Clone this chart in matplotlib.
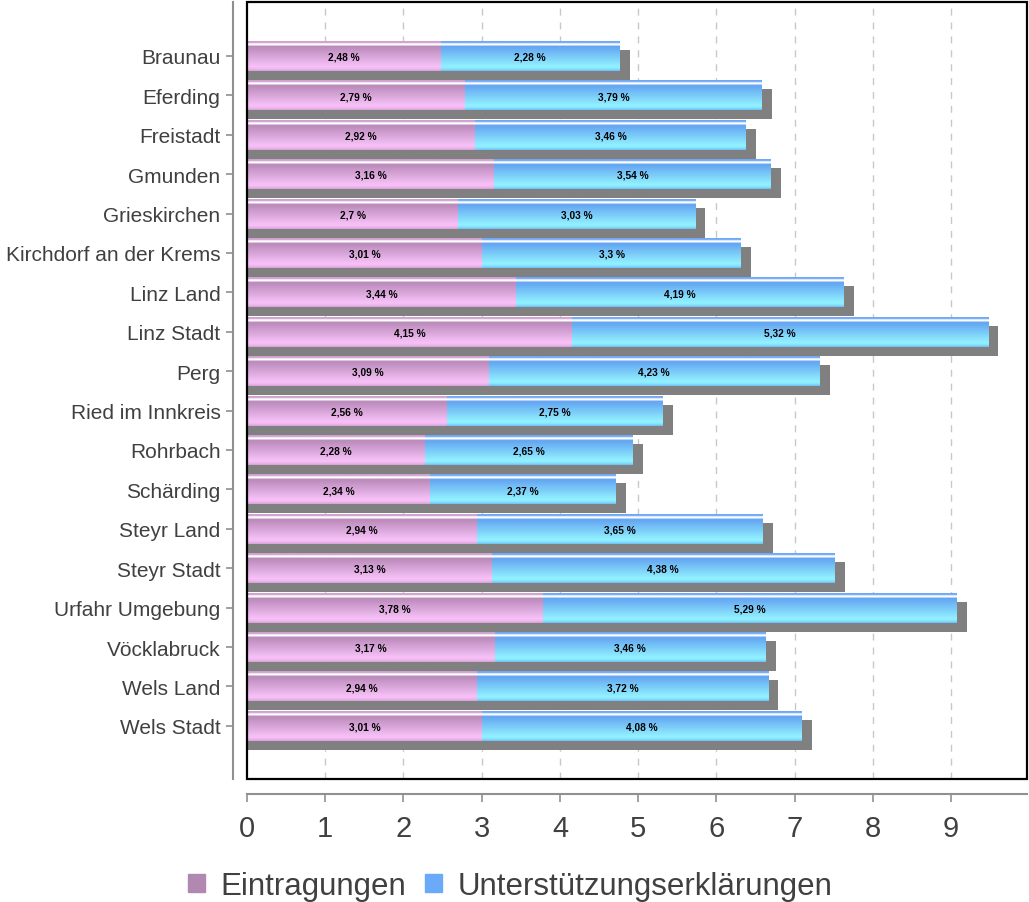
import numpy as np
import matplotlib
matplotlib.use("Agg")
import matplotlib.pyplot as plt
from matplotlib.colors import to_rgb
from matplotlib.patches import Rectangle, Patch

plt.rcParams['font.family'] = ['Liberation Sans', 'DejaVu Sans']

bezirke = ["Braunau", "Eferding", "Freistadt", "Gmunden", "Grieskirchen",
           "Kirchdorf an der Krems", "Linz Land", "Linz Stadt", "Perg",
           "Ried im Innkreis", "Rohrbach", "Schärding", "Steyr Land",
           "Steyr Stadt", "Urfahr Umgebung", "Vöcklabruck", "Wels Land",
           "Wels Stadt"]
eintragungen = [2.48, 2.79, 2.92, 3.16, 2.70, 3.01, 3.44, 4.15, 3.09,
                2.56, 2.28, 2.34, 2.94, 3.13, 3.78, 3.17, 2.94, 3.01]
unterstuetzung = [2.28, 3.79, 3.46, 3.54, 3.03, 3.30, 4.19, 5.32, 4.23,
                  2.75, 2.65, 2.37, 3.65, 4.38, 5.29, 3.46, 3.72, 4.08]
xticks = [0, 1, 2, 3, 4, 5, 6, 7, 8, 9]


def fmt(v):
    s = ("%.2f" % v).rstrip("0").rstrip(".")
    return s.replace(".", ",") + " %"


def gradient(stops, n=60):
    pos = np.array([p for p, c in stops])
    cols = np.array([to_rgb(c) for p, c in stops])
    t = np.linspace(0, 1, n)
    img = np.stack([np.interp(t, pos, cols[:, k]) for k in range(3)], axis=1)
    return img[:, None, :]


pink_grad = gradient([(0.0, '#d0a0d0'), (0.05, '#d0a0d0'), (0.08, '#ffffff'),
                      (0.13, '#ffffff'), (0.16, '#b888b8'), (0.86, '#f8c2f8'),
                      (0.93, '#f0b8f0'), (1.0, '#d8a2d8')])
blue_grad = gradient([(0.0, '#70a8f8'), (0.05, '#70a8f8'), (0.08, '#ffffff'),
                      (0.13, '#ffffff'), (0.16, '#62a2f2'), (0.86, '#92f2ff'),
                      (0.93, '#88e6ff'), (1.0, '#70c0f8')])

fig = plt.figure(figsize=(10.29, 9.03), dpi=100)
ax = fig.add_axes([247/1029, 1-780/903, 780/1029, 777/903])

y = np.arange(len(bezirke))
h = 0.76
ein = np.array(eintragungen)
unt = np.array(unterstuetzung)
tot = ein + unt

# grid
for xv in xticks[1:]:
    ax.axvline(xv, color='#c8c8c8', lw=1, ls=(0, (5, 5)), zorder=0)

# shadow
ax.barh(y + 0.23, tot + 0.13, height=h, color='#808080', zorder=1)

for i in range(len(y)):
    c = y[i]
    ax.imshow(pink_grad, extent=(0, ein[i], c + h/2, c - h/2),
              aspect='auto', interpolation='bilinear', zorder=2)
    ax.imshow(blue_grad, extent=(ein[i], tot[i], c + h/2, c - h/2),
              aspect='auto', interpolation='bilinear', zorder=2)
    ax.text(ein[i]/2, c + 0.02, fmt(ein[i]), ha='center', va='center',
            fontsize=7.3, fontweight='bold', color='black', zorder=3)
    ax.text(ein[i] + unt[i]/2, c + 0.02, fmt(unt[i]), ha='center', va='center',
            fontsize=7.3, fontweight='bold', color='black', zorder=3)

ax.set_xlim(0, 9.97)
ax.set_ylim(18.35, -1.37)

for s in ['top', 'right']:
    ax.spines[s].set_visible(False)
ax.spines['left'].set_position(('outward', 10))
ax.spines['bottom'].set_position(('outward', 11))
ax.spines['left'].set_color('#909090')
ax.spines['bottom'].set_color('#909090')
ax.spines['left'].set_linewidth(1.5)
ax.spines['bottom'].set_linewidth(1.5)

ax.set_yticks(y)
ax.set_yticklabels(bezirke)
ax.set_xticks(xticks)
ax.set_xticklabels([str(v) for v in xticks])
ax.tick_params(axis='y', length=5, color='#909090', width=1.2, pad=4,
               labelsize=15, labelcolor='#404040')
ax.tick_params(axis='x', length=6, color='#909090', width=1.2, pad=8,
               labelsize=21, labelcolor='#404040')

ax.add_patch(Rectangle((0, 0), 1, 1, transform=ax.transAxes, fill=False,
                       edgecolor='black', lw=1.6, zorder=5, clip_on=False))

handles = [Patch(color='#b088b0', label='Eintragungen'),
           Patch(color='#6aaaf8', label='Unterstützungserklärungen')]
leg = fig.legend(handles=handles, loc='center', ncol=2, frameon=False,
                 bbox_to_anchor=(510/1029, 1-887/903), fontsize=22.5,
                 handlelength=0.55, handleheight=0.55, handletextpad=0.5,
                 columnspacing=0.6)
for t in leg.get_texts():
    t.set_color('#404040')

fig.savefig("out.png", dpi=100)
